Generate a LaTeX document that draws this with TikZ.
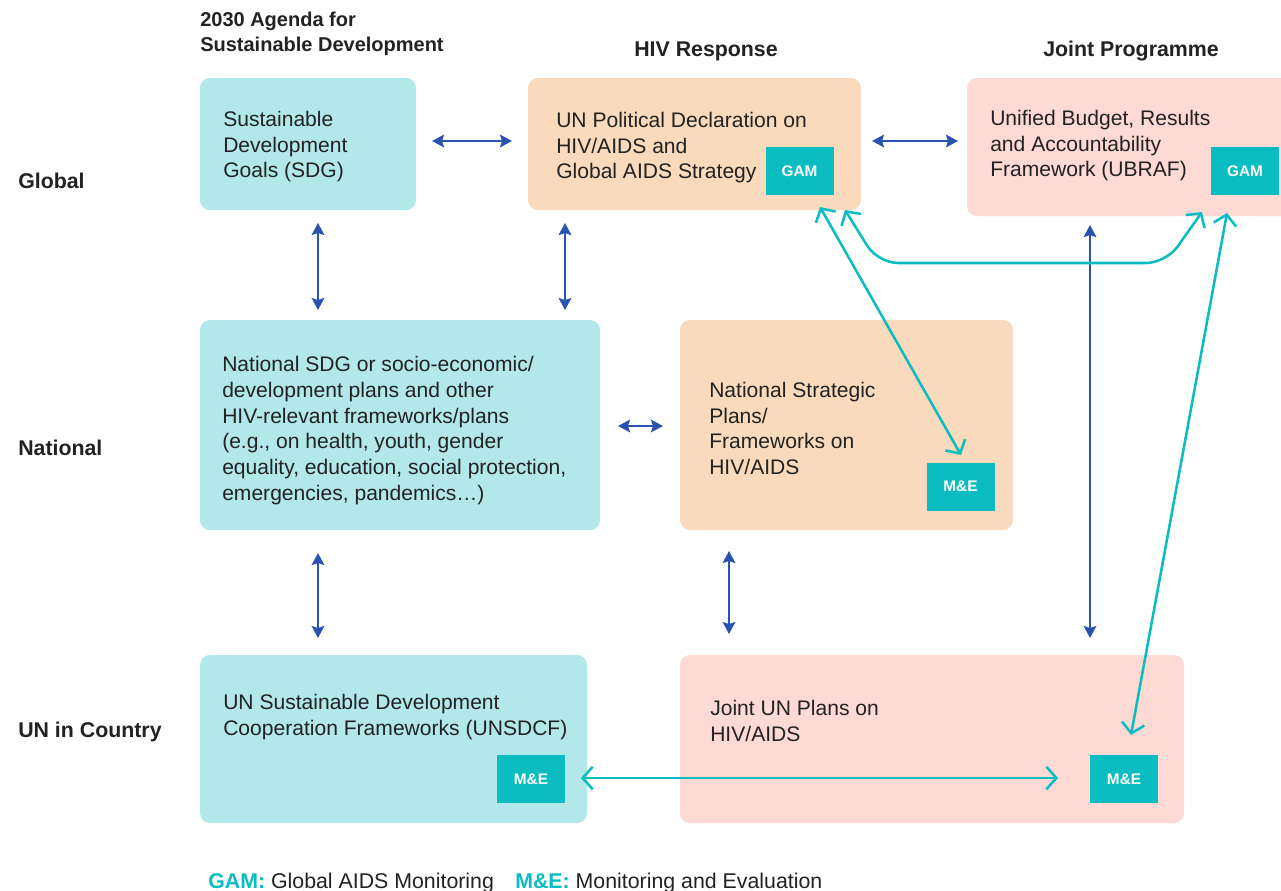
\documentclass[tikz,border=0pt]{standalone}
\usepackage{fontspec}
\setmainfont{Liberation Sans}
\usetikzlibrary{arrows.meta}
\definecolor{cyanbox}{RGB}{178,232,234}
\definecolor{peachbox}{RGB}{249,218,188}
\definecolor{pinkbox}{RGB}{255,217,212}
\definecolor{tealc}{RGB}{11,189,193}
\definecolor{bluec}{RGB}{42,82,176}
\definecolor{textc}{RGB}{34,34,34}
\begin{document}
\begin{tikzpicture}[x=0.75pt,y=-0.75pt,
  box/.style n args={3}{anchor=north west, inner sep=0pt, outer sep=0pt, draw=none,
     rounded corners=7.5pt, fill=#1, minimum width={#2*0.75pt}, minimum height={#3*0.75pt}},
  tag/.style={fill=tealc, inner sep=0pt, minimum width={68*0.75pt}, minimum height={48*0.75pt},
     text=white, font=\bfseries\fontsize{11.5}{13}\selectfont},
  txt/.style={anchor=north west, inner sep=0pt, align=left, text=textc,
     font=\fontsize{15.8}{19.2}\selectfont},
  head/.style={inner sep=0pt, text=textc, font=\bfseries\fontsize{16}{19}\selectfont},
  bluearrow/.style={draw=bluec, line width=1.5pt,
     {Stealth[length=9pt,width=9.5pt,inset=1.5pt]}-{Stealth[length=9pt,width=9.5pt,inset=1.5pt]}},
  tealarrow/.style={draw=tealc, line width=1.9pt,
     {Straight Barb[length=7.5pt,width=17pt]}-{Straight Barb[length=7.5pt,width=17pt]}}
]
\clip (0,0) rectangle (1281,890);
\fill[white] (0,0) rectangle (1281,890);

% headings
\node[head, anchor=north west, align=left, font=\bfseries\fontsize{15}{18.75}\selectfont] (hd1) at (200,12) {2030 Agenda for\\Sustainable Development};
\node[head, anchor=base] (hd2) at (706,56) {HIV Response};
\node[head, anchor=base] (hd3) at (1131,56) {Joint Programme};

% row labels
\node[head, anchor=base west] (rl1) at (18,188) {Global};
\node[head, anchor=base west] (rl2) at (18,455) {National};
\node[head, anchor=base west] (rl3) at (18,737) {UN in Country};

% boxes
\node[box={cyanbox}{216}{132}] (sdg) at (200,78) {};
\node[box={peachbox}{333}{132}] (hiv) at (528,78) {};
\node[box={pinkbox}{340}{138}] (ubraf) at (967,78) {};
\node[box={cyanbox}{400}{210}] (nsdg) at (200,320) {};
\node[box={peachbox}{333}{210}] (nsp) at (680,320) {};
\node[box={cyanbox}{387}{168}] (unsdcf) at (200,655) {};
\node[box={pinkbox}{504}{168}] (jun) at (680,655) {};

% box texts
\node[txt] (sdg-t) at (223,111) {Sustainable\\Development\\Goals (SDG)};
\node[txt] (hiv-t) at (556,112) {UN Political Declaration on\\HIV/AIDS and\\Global AIDS Strategy};
\node[txt] (ubraf-t) at (990,110) {Unified Budget, Results\\and Accountability\\Framework (UBRAF)};
\node[txt, font=\fontsize{15.8}{19.35}\selectfont] (nsdg-t) at (222,356) {National SDG or socio-economic/\\development plans and other\\HIV-relevant frameworks/plans\\(e.g., on health, youth, gender\\equality, education, social protection,\\emergencies, pandemics…)};
\node[txt] (nsp-t) at (709,382) {National Strategic\\Plans/\\Frameworks on\\HIV/AIDS};
\node[txt] (unsdcf-t) at (223,694) {UN Sustainable Development\\Cooperation Frameworks (UNSDCF)};
\node[txt] (jun-t) at (710,700) {Joint UN Plans on\\HIV/AIDS};

% tags
\node[tag] (gam1) at (799.5,171) {GAM};
\node[tag] (gam2) at (1245,171) {GAM};
\node[tag] (me1) at (960.5,486.5) {M\&E};
\node[tag] (me2) at (531,779) {M\&E};
\node[tag] (me3) at (1124,779) {M\&E};

% blue connector end points
\coordinate (b1a) at (432,141); \coordinate (b1b) at (512,141);
\coordinate (b2a) at (872,141); \coordinate (b2b) at (958,141);
\coordinate (b3a) at (318,223); \coordinate (b3b) at (318,310);
\coordinate (b4a) at (565,223); \coordinate (b4b) at (565,310);
\coordinate (b5a) at (618,426); \coordinate (b5b) at (663,426);
\coordinate (b6a) at (318,553); \coordinate (b6b) at (318,638);
\coordinate (b7a) at (729,551); \coordinate (b7b) at (729,634);
\coordinate (b8a) at (1090,225); \coordinate (b8b) at (1090,638);

\draw[bluearrow] (b1a) -- (b1b);
\draw[bluearrow] (b2a) -- (b2b);
\draw[bluearrow] (b3a) -- (b3b);
\draw[bluearrow] (b4a) -- (b4b);
\draw[bluearrow] (b5a) -- (b5b);
\draw[bluearrow] (b6a) -- (b6b);
\draw[bluearrow] (b7a) -- (b7b);
\draw[bluearrow] (b8a) -- (b8b);

% teal connector end points
\coordinate (t1a) at (820,207); \coordinate (t1b) at (961,455);
\coordinate (t2a) at (845,210); \coordinate (t2b) at (1202,212);
\coordinate (t3a) at (1227,213); \coordinate (t3b) at (1131,735);
\coordinate (t4a) at (581,778); \coordinate (t4b) at (1058,778);

\draw[tealarrow] (t1a) -- (t1b);
\draw[tealarrow, rounded corners=15pt] (t2a) -- (878,263) -- (1166,263) -- (t2b);
\draw[tealarrow] (t3a) -- (t3b);
\draw[tealarrow] (t4a) -- (t4b);

% legend
\node[anchor=base west, inner sep=0pt, text=textc, font=\fontsize{16}{19}\selectfont] (leg1) at (208,888)
  {\textcolor{tealc}{\bfseries GAM:} Global AIDS Monitoring};
\node[anchor=base west, inner sep=0pt, text=textc, font=\fontsize{16}{19}\selectfont] (leg2) at (515,888)
  {\textcolor{tealc}{\bfseries M\&E:} Monitoring and Evaluation};
\end{tikzpicture}
\end{document}
